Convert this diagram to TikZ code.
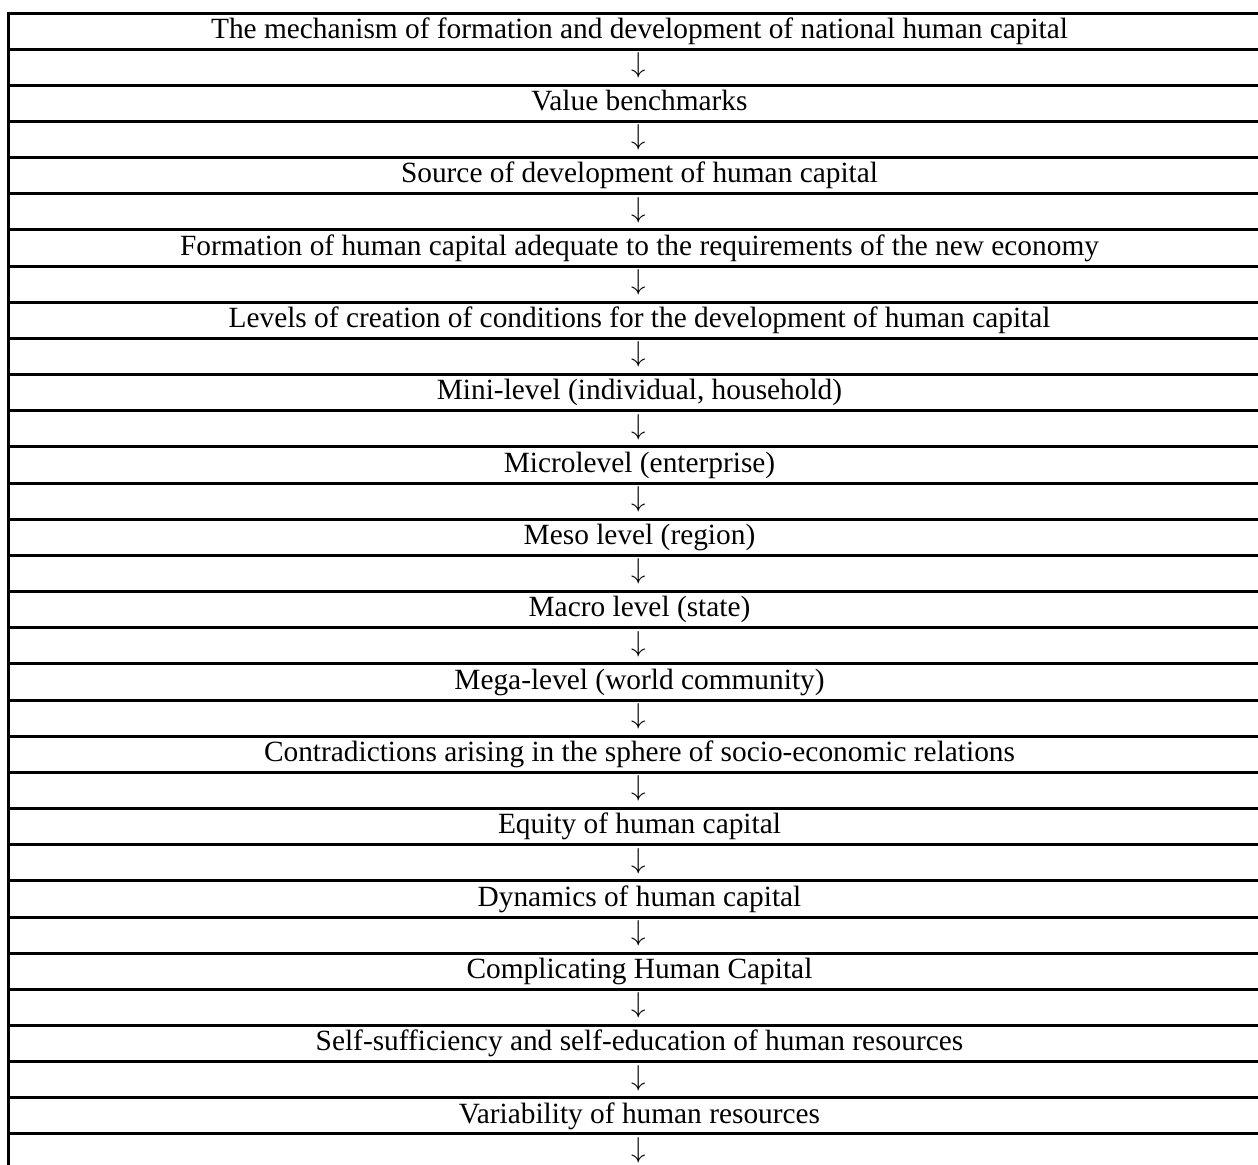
\documentclass[tikz,border=0pt]{standalone}
\usepackage{fontspec}
\setmainfont{Liberation Serif}
\usepackage{tikz}
\tikzstyle{rule}=[line width=1.5pt]
\tikzstyle{celltext}=[anchor=base,inner sep=0pt,font=\fontsize{14.68}{17}\selectfont]
\newcommand\rowh{36.16}
\begin{document}
\begin{tikzpicture}[x=0.5pt,y=-0.5pt]
\useasboundingbox (0,0) rectangle (1258,1164);
% text rows and arrow rows
\foreach \txt [count=\i from 0] in {
  {The mechanism of formation and development of national human capital},
  {Value benchmarks},
  {Source of development of human capital},
  {Formation of human capital adequate to the requirements of the new economy},
  {Levels of creation of conditions for the development of human capital},
  {Mini-level (individual, household)},
  {Microlevel (enterprise)},
  {Meso level (region)},
  {Macro level (state)},
  {Mega-level (world community)},
  {Contradictions arising in the sphere of socio-economic relations},
  {Equity of human capital},
  {Dynamics of human capital},
  {Complicating Human Capital},
  {Self-sufficiency and self-education of human resources},
  {Variability of human resources}} {
  \node[celltext] (t\i) at (639.5,{13+2*\i*\rowh+25.3}) {\txt};
  \node[celltext] (a\i) at (639,{13+(2*\i+1)*\rowh+23.5}) {$\downarrow$};
}
% table rules
\foreach \k in {0,...,31}
  \draw[rule] (8,{13+\k*\rowh}) -- (1262,{13+\k*\rowh});
\draw[rule] (8,12) -- (8,1170);
\end{tikzpicture}
\end{document}
